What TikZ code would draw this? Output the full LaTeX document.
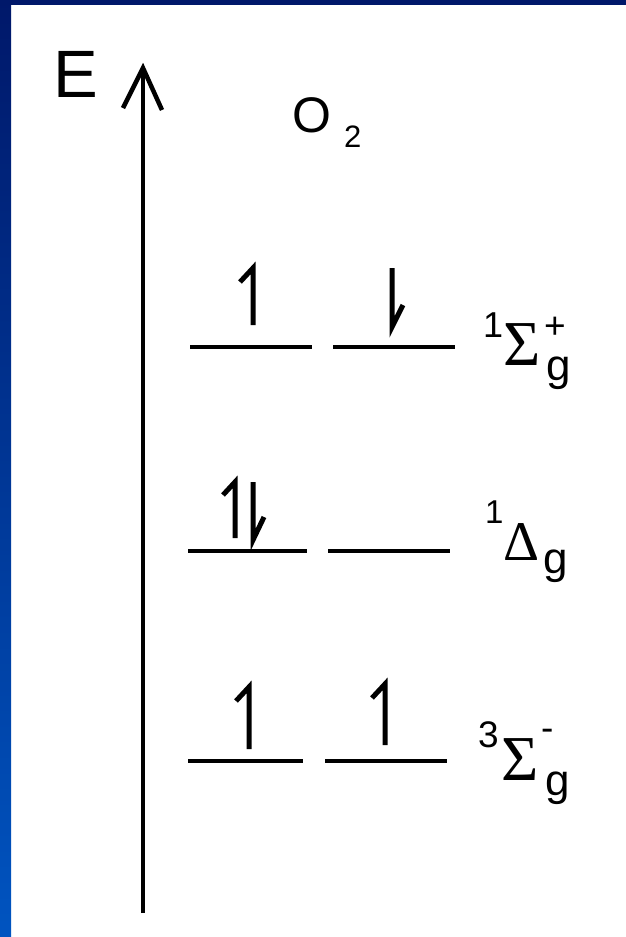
\documentclass[tikz,border=0pt]{standalone}
\usepackage{fontspec}
\setmainfont{Liberation Sans}
\newfontfamily\grk{Liberation Serif}
\definecolor{navy}{HTML}{00186A}
\definecolor{barblue}{HTML}{0054C0}
\begin{document}
\begin{tikzpicture}[x=1pt,y=-1pt,
  lvl/.style={line width=4.5pt},
  spin/.style={line width=5pt},
  axisline/.style={line width=4.5pt},
  txt/.style={inner sep=0pt, anchor=base west}]
\useasboundingbox (0,0) rectangle (626,937);
\fill[white] (0,0) rectangle (626,937);
% frame
\shade[top color=navy, bottom color=barblue] (0,0) rectangle (11,937);
\fill[navy] (0,0) rectangle (626,5);
% energy axis
\coordinate (axbot) at (143,913);
\coordinate (axtop) at (143,68);
\coordinate (axl) at (123,108);
\coordinate (axr) at (162,110);
\draw[axisline] (axbot) -- (axtop);
\draw[axisline, line join=miter] (axl) -- (axtop) -- (axr);
\node[txt, font=\fontsize{67}{67}\selectfont] (E) at (53,97) {E};
\node[txt, font=\fontsize{50}{50}\selectfont] (O) at (292,132) {O};
\node[txt, font=\fontsize{31}{31}\selectfont] (two) at (344,147) {2};
% level 1Sigma_g^+
\coordinate (a1) at (190,347); \coordinate (a2) at (312,347);
\coordinate (a3) at (333,347); \coordinate (a4) at (455,347);
\draw[lvl] (a1) -- (a2); \draw[lvl] (a3) -- (a4);
\coordinate (u1b) at (253,325); \coordinate (u1t) at (253,268); \coordinate (u1h) at (240,282);
\draw[spin] (u1b) -- (u1t) -- (u1h);
\coordinate (d1t) at (392,268); \coordinate (d1b) at (392,327); \coordinate (d1h) at (403,305);
\draw[spin] (d1t) -- (d1b) -- (d1h);
\node[txt, font=\fontsize{36}{36}\selectfont] (s1a) at (483,337) {1};
\node[txt, font=\fontsize{64}{64}\grk] (s1) at (503,365) {Σ};
\node[txt, font=\fontsize{37}{37}\selectfont] (s1b) at (544,338) {+};
\node[txt, font=\fontsize{44}{44}\selectfont] (s1c) at (546,380) {g};
% level 1Delta_g
\coordinate (b1) at (188,551); \coordinate (b2) at (307,551);
\coordinate (b3) at (328,551); \coordinate (b4) at (450,551);
\draw[lvl] (b1) -- (b2); \draw[lvl] (b3) -- (b4);
\coordinate (u2b) at (235,538); \coordinate (u2t) at (235,482); \coordinate (u2h) at (223,495);
\draw[spin] (u2b) -- (u2t) -- (u2h);
\coordinate (d2t) at (253,482); \coordinate (d2b) at (253,540); \coordinate (d2h) at (264,517);
\draw[spin] (d2t) -- (d2b) -- (d2h);
\node[txt, font=\fontsize{33}{33}\selectfont] (s2a) at (485,523) {1};
\node[txt, font=\fontsize{56}{56}\grk] (s2) at (503,560) {Δ};
\node[txt, font=\fontsize{44}{44}\selectfont] (s2c) at (543,573) {g};
% level 3Sigma_g^-
\coordinate (c1) at (188,761); \coordinate (c2) at (303,761);
\coordinate (c3) at (325,761); \coordinate (c4) at (447,761);
\draw[lvl] (c1) -- (c2); \draw[lvl] (c3) -- (c4);
\coordinate (u3b) at (249,749); \coordinate (u3t) at (249,687); \coordinate (u3h) at (236,701);
\draw[spin] (u3b) -- (u3t) -- (u3h);
\coordinate (u4b) at (385,745); \coordinate (u4t) at (385,684); \coordinate (u4h) at (372,698);
\draw[spin] (u4b) -- (u4t) -- (u4h);
\node[txt, font=\fontsize{37}{37}\selectfont] (s3a) at (478,747) {3};
\node[txt, font=\fontsize{64}{64}\grk] (s3) at (501,780) {Σ};
\node[txt, font=\fontsize{37}{37}\selectfont] (s3b) at (541,740) {-};
\node[txt, font=\fontsize{44}{44}\selectfont] (s3c) at (545,795) {g};
\end{tikzpicture}
\end{document}
